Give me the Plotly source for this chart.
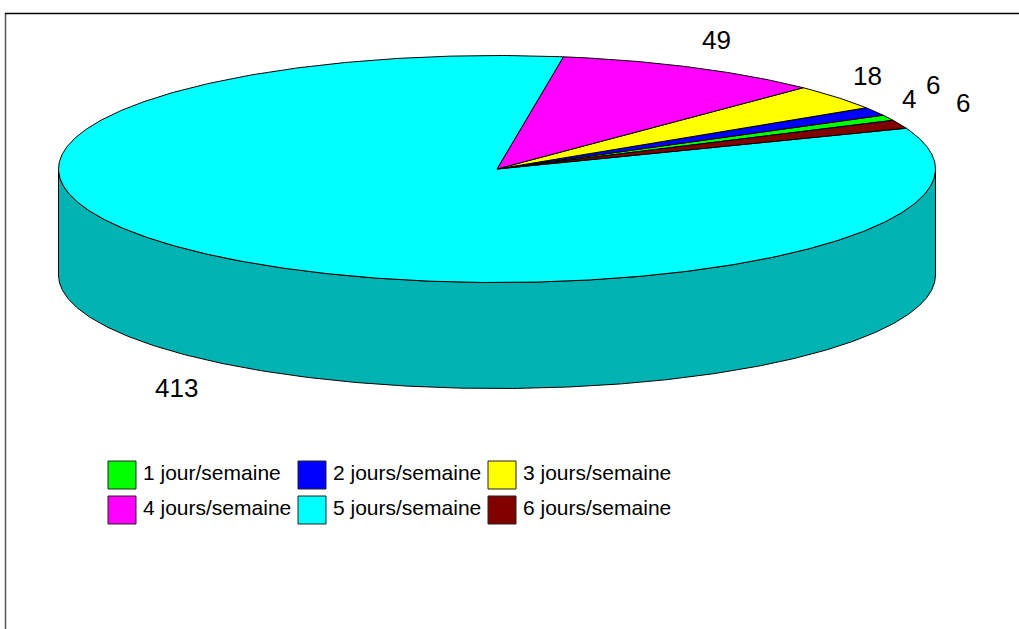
import numpy as np
import plotly.graph_objects as go

categories = ["1 jour/semaine", "2 jours/semaine", "3 jours/semaine",
              "4 jours/semaine", "5 jours/semaine", "6 jours/semaine"]
values = [4, 6, 18, 49, 413, 6]
colors = ["#00FF00", "#0000FF", "#FFFF00", "#FF00FF", "#00FFFF", "#800000"]
wall_color = "#00B3B3"

W, H = 1019, 629
CX, CY, RX, RY, DEPTH = 497, 169, 438.5, 113.5, 106
START_DEG = 25.4

label_pos = [(909, 99), (933, 85), (867, 76), (716, 40), (176, 388), (963, 103)]
legend_pos = [(108, 461), (298, 461), (488, 461), (108, 496), (298, 496), (488, 496)]
SWATCH = 28


def rim(deg, dy=0.0):
    a = np.radians(deg)
    return CX + RX * np.cos(a), CY - RY * np.sin(a) + dy


fig = go.Figure()

# side wall: front half of the disc
d = np.linspace(180, 360, 361)
x1, y1 = rim(d)
x2, y2 = rim(d[::-1], DEPTH)
fig.add_trace(go.Scatter(
    x=np.r_[x1, x2, x1[0]], y=np.r_[y1, y2, y1[0]], mode="lines", fill="toself",
    fillcolor=wall_color, line=dict(color="black", width=1), hoverinfo="skip"))

# top slices, anticlockwise from the start angle
sweeps = np.array(values) / sum(values) * 360
a0 = START_DEG
for v, c, s, name in zip(values, colors, sweeps, categories):
    d = np.linspace(a0, a0 + s, max(int(s * 2), 2) + 1)
    rx, ry = rim(d)
    fig.add_trace(go.Scatter(
        x=np.r_[CX, rx, CX], y=np.r_[CY, ry, CY], mode="lines", fill="toself",
        fillcolor=c, line=dict(color="black", width=1), name=name,
        text=f"{name}: {v}", hoverinfo="text"))
    a0 += s

annotations = []
for v, (lx, ly) in zip(values, label_pos):
    annotations.append(dict(x=lx, y=ly, text=str(v), showarrow=False, xanchor="center",
                            yanchor="middle", font=dict(size=26, color="black",
                            family="Liberation Sans")))

shapes = [
    dict(type="line", x0=5.5, x1=5.5, y0=13, y1=H, line=dict(color="#555555", width=1.5)),
    dict(type="line", x0=5, x1=W, y0=13.5, y1=13.5, line=dict(color="black", width=1.5)),
]
for name, c, (lx, ly) in zip(categories, colors, legend_pos):
    shapes.append(dict(type="rect", x0=lx, x1=lx + SWATCH, y0=ly, y1=ly + SWATCH,
                       fillcolor=c, line=dict(color="#222222", width=1)))
    annotations.append(dict(x=lx + SWATCH + 5, y=ly + 11.5, text=name, showarrow=False,
                            xanchor="left", yanchor="middle",
                            font=dict(size=21, color="black", family="Liberation Sans")))

fig.update_layout(
    width=W, height=H, margin=dict(l=0, r=0, t=0, b=0), showlegend=False,
    paper_bgcolor="white", plot_bgcolor="white",
    xaxis=dict(range=[0, W], visible=False, fixedrange=True),
    yaxis=dict(range=[H, 0], visible=False, fixedrange=True),
    shapes=shapes, annotations=annotations,
)
fig.write_html("out.html", config=dict(displayModeBar=False),
               post_script="document.body.style.margin='0';document.body.style.overflow='hidden';")
